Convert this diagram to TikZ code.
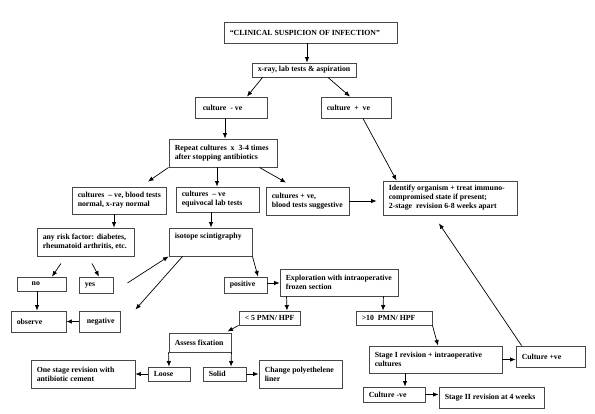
\documentclass[tikz,border=0pt]{standalone}
\usepackage{fontspec}
\setmainfont{Liberation Serif}
\usetikzlibrary{arrows.meta}
\newcommand\flowbox[6]{%
  \node[bx, minimum width=#4pt, minimum height=#5pt] (#1) at (#2,#3) {};
  \node[tx, anchor=west] at ([xshift=6pt]#1.west) {#6};
}
\begin{document}
\begin{tikzpicture}[x=1pt,y=-1pt,
  bx/.style={draw=black!72, line width=0.9pt, fill=none, inner sep=0pt, rectangle},
  tx/.style={inner sep=0pt, align=left, font=\fontsize{7.8}{9}\selectfont\bfseries},
  arr/.style={-{Latex[length=5.5pt,width=4.5pt]}, line width=0.7pt, black}]
\useasboundingbox (0,0) rectangle (595,413);
% boxes
\flowbox{clin}{310.5}{32.5}{173}{21}{“CLINICAL SUSPICION OF INFECTION”}
\flowbox{xray}{304}{70}{104}{14}{x-ray, lab tests \& aspiration}
\flowbox{cneg}{231}{107.5}{72}{21}{\hspace*{2pt}culture~ - ve}
\flowbox{cpos}{356}{107.5}{70}{21}{culture~ +~ ve}
\flowbox{rep}{223}{153}{108}{28}{Repeat cultures~ x~ 3-4 times\\after stopping antibiotics}
\flowbox{cbl}{119}{200.5}{94}{27}{cultures~ – ve, blood tests\\normal, x-ray normal}
\flowbox{ceq}{217.5}{199.5}{83}{25}{cultures~ – ve\\equivocal lab tests}
\flowbox{csug}{307.5}{201}{83}{28}{cultures + ve,\\blood tests suggestive}
\flowbox{ident}{450}{198}{134}{34}{Identify organism + treat immuno-\\compromised state if present;\\2-stage~ revision 6-8 weeks apart}
\flowbox{risk}{85.5}{242}{97}{28}{any risk factor: diabetes,\\rheumatoid arthritis, etc.}
\node[bx, minimum width=83pt, minimum height=28pt] (iso) at (210.5,242) {};
\node[tx, anchor=north west] at ([xshift=6pt,yshift=-5.5pt]iso.north west) {isotope scintigraphy};
\flowbox{no}{41.5}{284}{49}{14}{\hspace*{9pt}no}
\flowbox{yes}{96}{285}{34}{16}{yes}
\flowbox{observe}{38.5}{321.5}{55}{21}{observe}
\flowbox{negative}{99.5}{321.5}{41}{21}{\hspace*{2pt}negative}
\flowbox{pos}{245.5}{285}{43}{16}{positive}
\flowbox{expl}{339}{282.5}{118}{27}{Exploration with intraoperative\\frozen section}
\flowbox{lt5}{269.5}{318}{61}{14}{< 5 PMN/ HPF}
\flowbox{gt10}{394}{318}{76}{14}{>10~ PMN/ HPF}
\flowbox{assess}{200}{342.5}{62}{19}{Assess fixation}
\flowbox{loose}{169}{374}{42}{14}{Loose}
\flowbox{solid}{224.5}{374}{43}{14}{Solid}
\flowbox{one}{83}{374}{104}{28}{One stage revision with\\antibiotic cement}
\flowbox{change}{300.5}{374}{83}{28}{Change polyethelene\\liner}
\flowbox{stage1}{435.5}{359.5}{133}{27}{Stage I revision + intraoperative\\cultures}
\flowbox{cpv}{550.5}{356.5}{69}{21}{Culture +ve}
\flowbox{cng}{394}{394.5}{62}{15}{Culture -ve}
\flowbox{stage2}{491.5}{397.5}{105}{21}{Stage II revision at 4 weeks}
% connectors
\draw[arr] ([xshift=-3.5pt]clin.south) -- ([xshift=3pt]xray.north);
\draw[arr] ([xshift=11pt]xray.south west) -- ([xshift=16pt]cneg.north);
\draw[arr] ([xshift=24pt]xray.south) -- ([xshift=-6pt]cpos.north);
\draw[arr] ([xshift=-6pt]cneg.south) -- ([xshift=2pt]rep.north);
\draw[arr] (rep.south west) -- ([xshift=29pt,yshift=5pt]cbl.north);
\draw[arr] ([xshift=-6pt]rep.south) -- ([xshift=-0.5pt]ceq.north);
\draw[arr] ([xshift=-18pt]rep.south east) -- ([xshift=-21.5pt,yshift=4pt]csug.north);
\draw[arr] (csug.east) -- ([xshift=-6pt,yshift=-3pt]ident.west);
\draw[arr] ([xshift=7pt]cpos.south) -- ([xshift=14pt]ident.north west);
\draw[arr] ([xshift=-5pt]cbl.south) -- ([xshift=28.5pt]risk.north);
\draw[arr] ([xshift=-6.5pt]ceq.south) -- ([xshift=0.5pt]iso.north);
\draw[arr] ([xshift=-24.5pt,yshift=-7pt]risk.south) -- ([xshift=10.5pt]no.north);
\draw[arr] ([xshift=6.5pt,yshift=-7pt]risk.south) -- ([xshift=3pt]yes.north);
\draw[arr] ([xshift=14pt,yshift=2pt]yes.east) -- (iso.south west);
\draw[arr] ([xshift=14pt]iso.south west) -- ([xshift=15pt,yshift=1pt]negative.north east);
\draw[arr] ([xshift=-4.5pt]no.south) -- ([xshift=-1.5pt]observe.north);
\draw[arr] (negative.west) -- (observe.east);
\draw[arr] (iso.south east) -- ([xshift=12.5pt]pos.north);
\draw[arr] ([yshift=2pt]pos.east) -- ([yshift=-0.5pt]expl.west);
\draw[arr] ([xshift=7pt]expl.south west) -- ([xshift=17.5pt]lt5.north);
\draw[arr] ([xshift=-15pt]expl.south east) -- ([xshift=-11pt]gt10.north);
\draw[arr] (lt5.south west) -- ([xshift=-4pt,yshift=1pt]assess.north east);
\draw[arr] (assess.south west) -- (loose.north);
\draw[arr] (assess.south east) -- ([xshift=6.5pt]solid.north);
\draw[arr] (loose.west) -- (one.east);
\draw[arr] (solid.east) -- (change.west);
\draw[arr] (gt10.south east) -- ([xshift=2.5pt]stage1.north);
\draw[arr] (stage1.east) -- ([yshift=-3pt]cpv.west);
\draw[arr] ([xshift=6pt]cpv.north west) -- ([xshift=-11pt,yshift=-8pt]ident.south);
\draw[arr] ([xshift=-30.5pt]stage1.south) -- ([xshift=11pt]cng.north);
\draw[arr] (cng.east) -- ([yshift=3pt]stage2.west);
\end{tikzpicture}
\end{document}
